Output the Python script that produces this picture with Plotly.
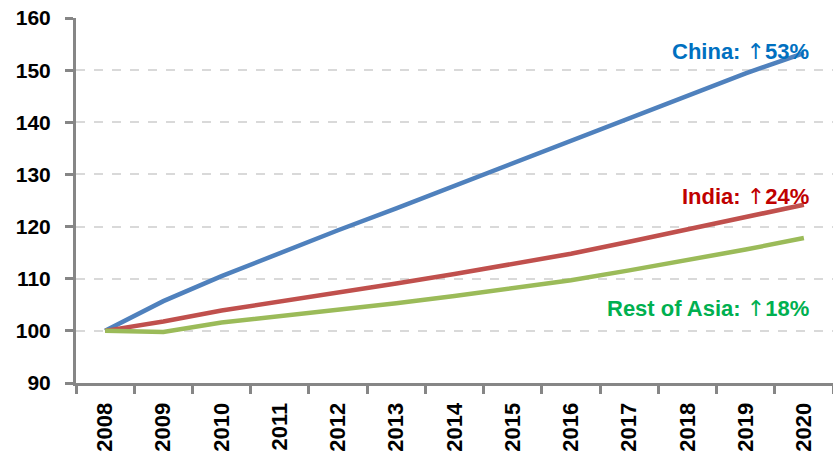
import plotly.graph_objects as go

years = ["2008", "2009", "2010", "2011", "2012", "2013", "2014",
         "2015", "2016", "2017", "2018", "2019", "2020"]
china = [100, 105.7, 110.5, 115.0, 119.3, 123.5, 127.8, 132.0, 136.4, 140.8, 145.1, 149.4, 153.3]
india = [100, 101.8, 103.9, 105.6, 107.2, 109.1, 110.9, 112.8, 114.8, 117.1, 119.4, 121.7, 124.2]
rest_of_asia = [100, 99.8, 101.6, 102.8, 104.0, 105.3, 106.7, 108.2, 109.7, 111.6, 113.5, 115.6, 117.8]

labels = [
    ("China: ", "53%", 153.5, "#0070C0"),
    ("India: ", "24%", 125.8, "#C00000"),
    ("Rest of Asia: ", "18%", 104.2, "#00B050"),
]

FONT = "Liberation Sans, Arial, sans-serif"

fig = go.Figure()
for name, vals, col in [("China", china, "#4F81BD"),
                        ("India", india, "#C0504D"),
                        ("Rest of Asia", rest_of_asia, "#9BBB59")]:
    fig.add_trace(go.Scatter(x=years, y=vals, mode="lines", name=name,
                             line=dict(color=col, width=4.5)))

for pre, pct, yv, col in labels:
    txt = ("<b>%s<span style=\"font-family:DejaVu Sans;font-weight:normal\">\u2191</span>%s</b>"
           % (pre, pct))
    fig.add_annotation(x=12.12, y=yv, xref="x", yref="y", text=txt,
                       showarrow=False, xanchor="right", yanchor="middle",
                       font=dict(family=FONT, size=22, color=col))

fig.update_layout(
    width=833, height=466,
    margin=dict(l=76, r=0, t=18, b=83),
    paper_bgcolor="white", plot_bgcolor="white",
    showlegend=False,
    font=dict(family=FONT, color="black"),
)
fig.update_xaxes(
    type="category", range=[-0.5, 12.5], automargin=False,
    tickson="boundaries", ticks="outside", ticklen=8, tickwidth=3, tickcolor="#868686",
    showline=True, linecolor="#868686", linewidth=3,
    showgrid=False, tickangle=-90,
    tickfont=dict(family=FONT, size=22, color="black"),
    ticklabelstandoff=8, ticklabeloverflow="allow",
    tickprefix="<b>", ticksuffix="</b>",
)
fig.update_yaxes(
    range=[90, 160.02], dtick=10, tick0=90, automargin=False,
    ticks="outside", ticklen=8, tickwidth=3, tickcolor="#868686",
    showline=True, linecolor="#868686", linewidth=3,
    showgrid=True, gridcolor="#D9D9D9", gridwidth=2, griddash="dash",
    zeroline=False,
    tickfont=dict(family=FONT, size=21, color="black"),
    tickprefix="<b>", ticksuffix="</b>",
    ticklabelstandoff=10, ticklabeloverflow="allow",
)
# remove the page's default 8px body margin so the figure sits at the window origin
fig.write_html("out.html", config={"displayModeBar": False},
               post_script="document.body.style.margin='0';")
